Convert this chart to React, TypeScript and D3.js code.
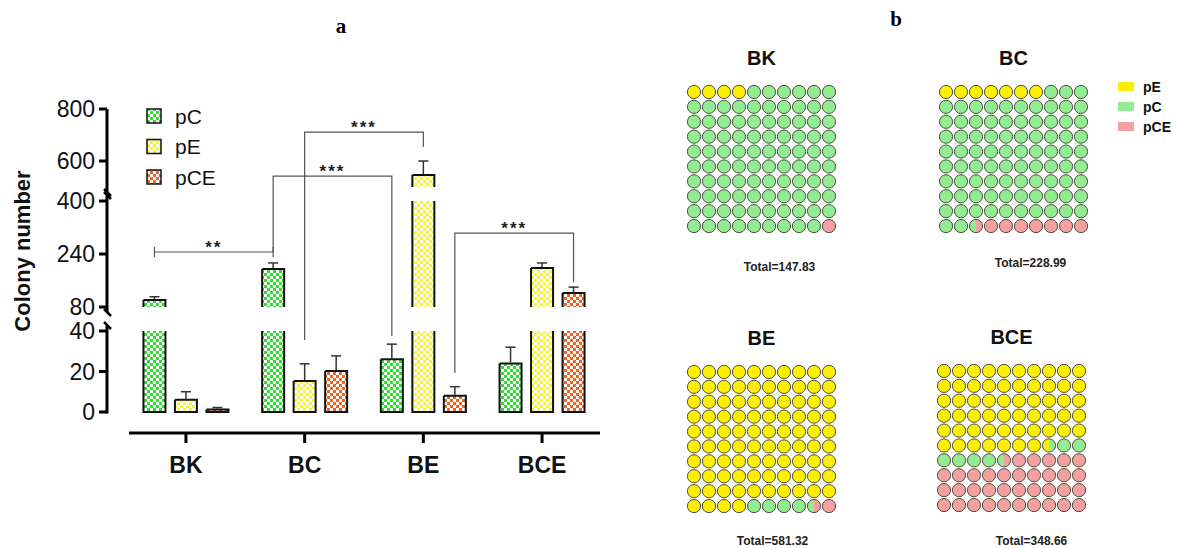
import * as d3 from "d3";

const groups = ["BK", "BC", "BE", "BCE"];
const series = ["pC", "pE", "pCE"];
const pCMeans = [101, 195, 26, 24];
const pCErrors = [10, 18, 7.5, 8];
const pEMeans = [6, 15.3, 546, 198];
const pEErrors = [4, 8.5, 54, 15];
const pCEMeans = [1.2, 20.3, 8, 122];
const pCEErrors = [1, 7.4, 4.5, 18];

// broken y axis: three pieces
const segmentDomains = [[0, 40], [80, 400], [500, 800]];
const segmentTicks = [[0, 20, 40], [80, 240, 400], [600, 800]];

// significance brackets: level + leg ends in data units
const brackets = [
  { from: ["BK", "pC"], to: ["BC", "pC"], level: 246, label: "**", legs: null },
  { from: ["BC", "pC"], to: ["BE", "pC"], level: 542, label: "***", legs: [246, 37.5] },
  { from: ["BC", "pE"], to: ["BE", "pE"], level: 711, label: "***", legs: [35.5, 654] },
  { from: ["BE", "pCE"], to: ["BCE", "pCE"], level: 303, label: "***", legs: [19.3, 155] },
];

// waffle panels (percent of 100 dots)
const waffleKeys = ["pE", "pC", "pCE"];
const wafflePE = [4, 7, 94, 57.5];
const wafflePC = [95, 85.5, 4.5, 7];
const wafflePCE = [1, 7.5, 1.5, 35.5];
const waffleTotals = ["147.83", "228.99", "581.32", "348.66"];

const FONT = "Arial, 'Liberation Sans', sans-serif";
const SERIF = "'Times New Roman', 'Liberation Serif', serif";

const barColors: Record<string, string> = { pC: "#2ee02e", pE: "#f8f52c", pCE: "#ef6420" };
const dotColors: Record<string, string> = { pE: "#fcef00", pC: "#92ec92", pCE: "#f4a0a0" };

const meansBy: Record<string, number[]> = { pC: pCMeans, pE: pEMeans, pCE: pCEMeans };
const errorsBy: Record<string, number[]> = { pC: pCErrors, pE: pEErrors, pCE: pCEErrors };

const segScales = [
  d3.scaleLinear().domain(segmentDomains[0]).range([412, 331]),
  d3.scaleLinear().domain(segmentDomains[1]).range([307, 201]),
  d3.scaleLinear().domain(segmentDomains[2]).range([187, 109]),
];

function yPos(v: number) {
  for (let i = segScales.length - 1; i >= 0; i--) {
    if (v >= segmentDomains[i][0]) return segScales[i](v);
  }
  return segScales[0](v);
}

const x = d3.scaleBand().domain(groups).range([126.6, 601.4]);
const xInner = d3.scalePoint().domain(series).range([-31.5, 31.5]);
const barW = 22;
const barX = (g: string, s: string) => (x(g) as number) + x.bandwidth() / 2 + (xInner(s) as number);

function BarChart() {
  const axisX = 107;
  const bars: JSX.Element[] = [];
  groups.forEach((g, gi) => {
    series.forEach((s) => {
      const v = meansBy[s][gi];
      const e = errorsBy[s][gi];
      const cx = barX(g, s);
      const x0 = cx - barW / 2;
      const x1 = cx + barW / 2;
      segScales.forEach((sc, si) => {
        const [d0, d1] = segmentDomains[si];
        if (v <= d0) return;
        const top = Math.min(v, d1);
        const yb = sc(d0);
        const yt = sc(top);
        const isTop = v <= d1;
        let path = `M${x0},${yt}L${x0},${yb}`;
        path += si === 0 ? `L${x1},${yb}` : `M${x1},${yb}`;
        path += `L${x1},${yt}`;
        if (isTop) path += `L${x0},${yt}`;
        bars.push(
          <g key={`${g}-${s}-${si}`}>
            <rect x={x0} y={yt} width={barW} height={yb - yt} fill={`url(#pat-${s})`} />
            <path d={path} fill="none" stroke="#111" strokeWidth={2} />
          </g>
        );
      });
      const yv = yPos(v);
      const ye = yPos(v + e);
      bars.push(
        <g key={`${g}-${s}-err`} stroke="#333" strokeWidth={1.5}>
          <line x1={cx} x2={cx} y1={yv - 1} y2={ye} />
          <line x1={cx - 5} x2={cx + 5} y1={ye} y2={ye} />
        </g>
      );
    });
  });

  const brs = brackets.map((b, i) => {
    const xa = barX(b.from[0], b.from[1]);
    const xb = barX(b.to[0], b.to[1]);
    const yl = yPos(b.level);
    let d;
    if (b.legs) {
      d = `M${xa},${yPos(b.legs[0])}L${xa},${yl}L${xb},${yl}L${xb},${yPos(b.legs[1])}`;
    } else {
      d = `M${xa},${yl - 5}L${xa},${yl + 5}M${xa},${yl}L${xb},${yl}M${xb},${yl - 5}L${xb},${yl + 5}`;
    }
    return (
      <g key={`br-${i}`}>
        <path d={d} fill="none" stroke="#555" strokeWidth={1.2} />
        <text x={(xa + xb) / 2} y={yl + 1} textAnchor="middle" fontFamily={FONT} fontWeight="bold" fontSize={17} letterSpacing={2} fill="#222">
          {b.label}
        </text>
      </g>
    );
  });

  // axis pieces with small break marks
  const axisPieces = segScales.map((sc, si) => {
    const r = sc.range();
    const yb = si === 0 ? r[0] : r[0] + 5;
    const yt = si === segScales.length - 1 ? r[1] : r[1] - 5;
    return (
      <g key={`ax-${si}`} stroke="#000" strokeWidth={3}>
        <line x1={axisX} x2={axisX} y1={yb + (si === 0 ? 1.5 : 0)} y2={yt} />
        {si > 0 && <line x1={axisX - 3} x2={axisX + 4} y1={yb - 3} y2={yb + 4} strokeWidth={2.5} />}
        {si < segScales.length - 1 && <line x1={axisX - 3} x2={axisX + 4} y1={yt - 4} y2={yt + 3} strokeWidth={2.5} />}
        {segmentTicks[si].map((t) => (
          <g key={t}>
            <line x1={axisX - 8} x2={axisX} y1={sc(t)} y2={sc(t)} />
            <text x={axisX - 12} y={sc(t) + 8} textAnchor="end" stroke="none" fill="#111" fontFamily={FONT} fontSize={23}>
              {t}
            </text>
          </g>
        ))}
      </g>
    );
  });

  const legendY = d3.scalePoint().domain(series).range([116, 177]);

  return (
    <g>
      <text x={341} y={33} textAnchor="middle" fontFamily={SERIF} fontWeight="bold" fontSize={21}>a</text>
      <text transform="translate(30,251) rotate(-90)" textAnchor="middle" fontFamily={FONT} fontWeight="bold" fontSize={22} fill="#111">
        Colony number
      </text>
      {axisPieces}
      <line x1={129} x2={600} y1={433} y2={433} stroke="#000" strokeWidth={3} />
      {groups.map((g) => {
        const cx = (x(g) as number) + x.bandwidth() / 2;
        return (
          <g key={g}>
            <line x1={cx} x2={cx} y1={433} y2={443} stroke="#000" strokeWidth={3} />
            <text x={cx} y={473} textAnchor="middle" fontFamily={FONT} fontWeight="bold" fontSize={23} fill="#111">{g}</text>
          </g>
        );
      })}
      {bars}
      {brs}
      {series.map((s) => (
        <g key={`lg-${s}`}>
          <rect x={147} y={(legendY(s) as number) - 7} width={14} height={14} fill={`url(#pat-${s})`} stroke="#111" strokeWidth={1.5} />
          <text x={175} y={(legendY(s) as number) + 7.5} fontFamily={FONT} fontSize={21} fill="#111">{s}</text>
        </g>
      ))}
    </g>
  );
}

const panelPos = [
  { x: 686.5, y: 84.5, totalDx: 18, totalY: 271 },
  { x: 938.5, y: 84.5, totalDx: 17, totalY: 267 },
  { x: 686.5, y: 364.5, totalDx: 11, totalY: 545 },
  { x: 936.5, y: 363.5, totalDx: 20, totalY: 545 },
];

function Waffles() {
  const gx = d3.scaleBand<number>().domain(d3.range(10)).range([0, 150]);
  const gy = d3.scaleBand<number>().domain(d3.range(10)).range([0, 149]);
  const defs: JSX.Element[] = [];
  const panels = groups.map((g, gi) => {
    const shares = [wafflePE[gi], wafflePC[gi], wafflePCE[gi]];
    const cum = d3.cumsum(shares);
    const p = panelPos[gi];
    const dots = d3.range(100).map((i) => {
      const parts: { key: string; a: number; b: number }[] = [];
      waffleKeys.forEach((k, ki) => {
        const lo = ki === 0 ? 0 : cum[ki - 1];
        const hi = cum[ki];
        const a = Math.max(lo, i);
        const b = Math.min(hi, i + 1);
        if (b - a > 1e-6) parts.push({ key: k, a: a - i, b: b - i });
      });
      let fill = dotColors[parts[0].key];
      if (parts.length > 1) {
        const id = `grad-${gi}-${i}`;
        defs.push(
          <linearGradient key={id} id={id} x1="0" x2="1" y1="0" y2="0">
            {parts.flatMap((pt) => [
              <stop key={`${pt.key}a`} offset={pt.a} stopColor={dotColors[pt.key]} />,
              <stop key={`${pt.key}b`} offset={pt.b} stopColor={dotColors[pt.key]} />,
            ])}
          </linearGradient>
        );
        fill = `url(#${id})`;
      }
      const col = i % 10;
      const row = Math.floor(i / 10);
      return (
        <circle key={i} cx={p.x + (gx(col) as number) + gx.bandwidth() / 2} cy={p.y + (gy(row) as number) + gy.bandwidth() / 2}
          r={6.6} fill={fill} stroke="#4d4d40" strokeWidth={1} />
      );
    });
    return (
      <g key={g}>
        <text x={p.x + 75} y={p.y - 20} textAnchor="middle" fontFamily={FONT} fontWeight="bold" fontSize={20} fill="#111">{g}</text>
        {dots}
        <text x={p.x + 75 + p.totalDx} y={p.totalY} textAnchor="middle" fontFamily={FONT} fontWeight="bold" fontSize={12} fill="#222">
          {`Total=${waffleTotals[gi]}`}
        </text>
      </g>
    );
  });
  const legendY = d3.scalePoint().domain(waffleKeys).range([86.5, 126.5]);
  return (
    <g>
      <defs>{defs}</defs>
      <text x={896} y={26} textAnchor="middle" fontFamily={SERIF} fontWeight="bold" fontSize={21}>b</text>
      {panels}
      {waffleKeys.map((k) => (
        <g key={k}>
          <rect x={1118} y={(legendY(k) as number) - 4.5} width={16} height={9} fill={dotColors[k]} />
          <text x={1143} y={(legendY(k) as number) + 5} fontFamily={FONT} fontWeight="bold" fontSize={14} fill="#111">{k}</text>
        </g>
      ))}
    </g>
  );
}

export default function App() {
  return (
    <svg width={1178} height={548} style={{ position: "absolute", left: 0, top: 0, background: "#fff" }}>
      <defs>
        {series.map((s) => (
          <pattern key={s} id={`pat-${s}`} width={6} height={6} patternUnits="userSpaceOnUse">
            <rect width={6} height={6} fill={barColors[s]} />
            <rect width={3} height={3} fill="#fff" />
            <rect x={3} y={3} width={3} height={3} fill="#fff" />
          </pattern>
        ))}
      </defs>
      <BarChart />
      <Waffles />
    </svg>
  );
}
